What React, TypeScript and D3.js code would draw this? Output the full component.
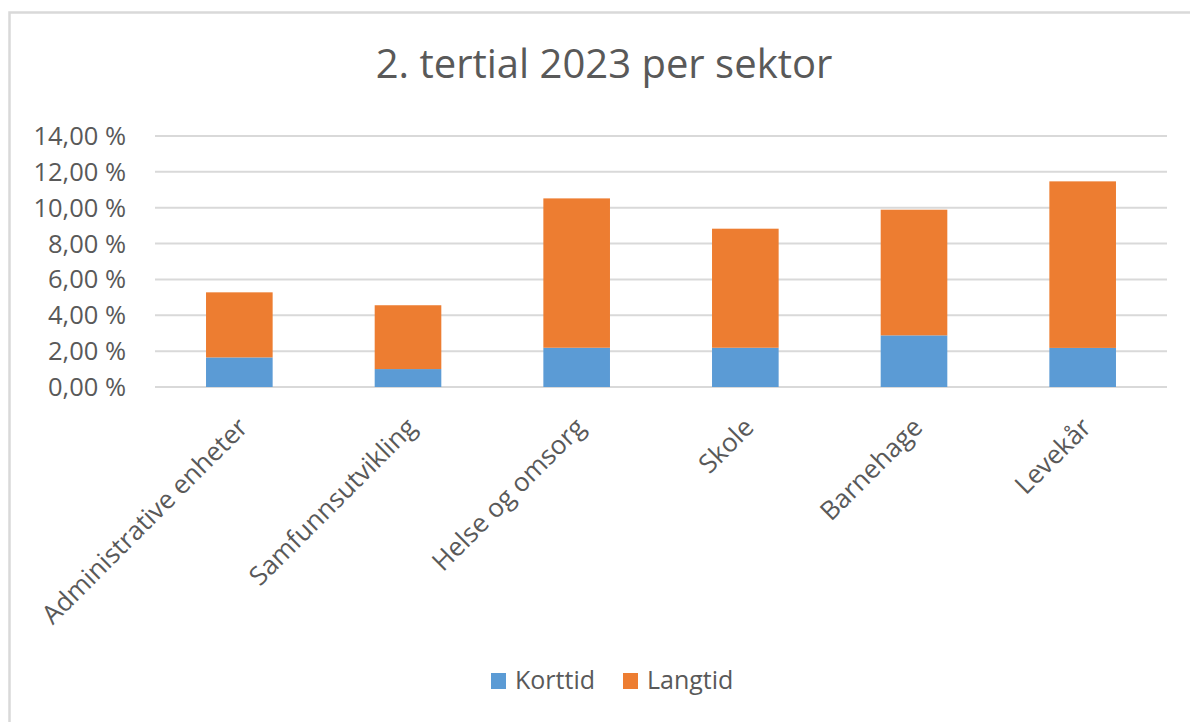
import React from "react";
import * as d3 from "d3";

const categories = [
  "Administrative enheter",
  "Samfunnsutvikling",
  "Helse og omsorg",
  "Skole",
  "Barnehage",
  "Levekår",
];
const korttid = [1.65, 1.0, 2.19, 2.19, 2.88, 2.18];
const langtid = [3.63, 3.56, 8.33, 6.64, 7.01, 9.29];
const yTicks = [0, 2, 4, 6, 8, 10, 12, 14];
const seriesNames = ["Korttid", "Langtid"];
const colors = ["#5B9BD5", "#ED7D31"];

const W = 1190;
const H = 722;
const FONT = "'Open Sans', sans-serif";
const TEXT = "#595959";

export default function App() {
  const x = d3
    .scaleBand<string>()
    .domain(categories)
    .range([155, 1167])
    .paddingInner(0.605)
    .paddingOuter(0.3025);
  const y = d3.scaleLinear().domain([0, 14]).range([387, 136]);
  const fmt = (v: number) => v.toFixed(2).replace(".", ",") + " %";

  const stacked = categories.map((c, i) => {
    const k = korttid[i];
    const l = langtid[i];
    return [
      { c, y0: 0, y1: k, s: 0 },
      { c, y0: k, y1: k + l, s: 1 },
    ];
  });

  return (
    <svg
      width={W}
      height={H}
      style={{ position: "absolute", left: 0, top: 0, background: "#fff" }}
    >
      <rect x={0} y={0} width={W} height={H} fill="#fff" />
      <rect
        x={9.5}
        y={12.5}
        width={W + 20}
        height={H + 20}
        fill="none"
        stroke="#D9D9D9"
        strokeWidth={2.5}
      />
      <text
        x={604}
        y={78}
        textAnchor="middle"
        fontFamily={FONT}
        fontSize={40}
        fill={TEXT}
      >
        2. tertial 2023 per sektor
      </text>
      {yTicks.map((t) => (
        <g key={t}>
          <line
            x1={155}
            x2={1167}
            y1={y(t)}
            y2={y(t)}
            stroke="#D9D9D9"
            strokeWidth={2}
          />
          <text
            x={126}
            y={y(t) + 9}
            textAnchor="end"
            fontFamily={FONT}
            fontSize={25.5}
            fill={TEXT}
          >
            {fmt(t)}
          </text>
        </g>
      ))}
      {stacked.flat().map((d, i) => (
        <rect
          key={i}
          x={x(d.c)}
          y={y(d.y1)}
          width={x.bandwidth()}
          height={y(d.y0) - y(d.y1)}
          fill={colors[d.s]}
        />
      ))}
      {categories.map((c) => {
        const cx = (x(c) as number) + x.bandwidth() / 2;
        return (
          <text
            key={c}
            transform={`translate(${cx + 10},${429}) rotate(-45)`}
            textAnchor="end"
            fontFamily={FONT}
            fontSize={26}
            fill={TEXT}
          >
            {c}
          </text>
        );
      })}
      {seriesNames.map((s, i) => {
        const lx = [491, 623][i];
        return (
          <g key={s}>
            <rect x={lx} y={673} width={15} height={16} fill={colors[i]} />
            <text
              x={lx + 24}
              y={689}
              fontFamily={FONT}
              fontSize={25}
              fill={TEXT}
            >
              {s}
            </text>
          </g>
        );
      })}
    </svg>
  );
}
